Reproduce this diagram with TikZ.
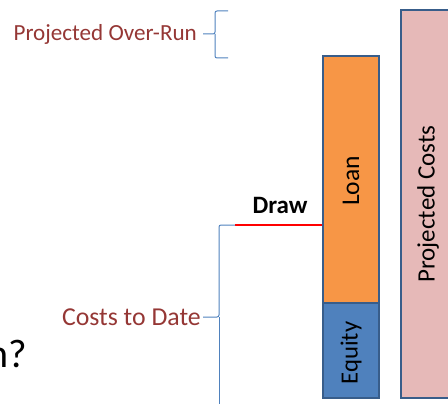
\documentclass[tikz,border=0pt]{standalone}
\usepackage{fontspec}
\setmainfont{Carlito}
\definecolor{loanc}{HTML}{F79646}
\definecolor{eqc}{HTML}{4F81BD}
\definecolor{projc}{HTML}{E6B9B8}
\definecolor{edgec}{HTML}{385D8A}
\definecolor{labc}{HTML}{953735}
\definecolor{bracec}{HTML}{4F81BD}
\begin{document}
\begin{tikzpicture}[x=1pt,y=-1pt,
  bar/.style={draw=edgec,line width=2.5pt},
  lab/.style={text=labc,inner sep=0pt},
  inbar/.style={rotate=90,inner sep=0pt},
  brc/.style={draw=bracec,line width=1pt,rounded corners=2pt}]
\useasboundingbox (0,0) rectangle (448,404);
\clip (0,0) rectangle (448,404);
% bars
\path[bar,fill=projc] (401,10) rectangle (460,398);
\node[inbar,font=\fontsize{25}{27}\selectfont] (pc) at (428,204) {Projected Costs};
\path[bar,fill=loanc] (323,56) rectangle (379,303);
\node[inbar,font=\fontsize{25.5}{27}\selectfont] (loan) at (351,181) {Loan};
\path[bar,fill=eqc] (323,303) rectangle (379,398);
\node[inbar,font=\fontsize{24.7}{26}\selectfont] (eq) at (351,353) {Equity};
% draw line
\coordinate (dl) at (235,225);
\coordinate (dr) at (322,225);
\draw[red,line width=2.8pt] (dl) -- (dr);
\node[font=\bfseries\fontsize{25}{27}\selectfont,inner sep=0pt] (draw) at (280,205) {Draw};
% over-run brace
\coordinate (ot) at (228,11);
\coordinate (ob) at (228,58);
\coordinate (otip) at (203,34);
\draw[brc] (ot) -- (215,11) -- (215,34) -- (otip);
\draw[brc] (ob) -- (215,58) -- (215,34);
\node[lab,anchor=east,font=\fontsize{23.1}{25}\selectfont] (over) at (197,34) {Projected Over-Run};
% costs brace
\coordinate (ctip) at (203,317);
\coordinate (cb) at (219,410);
\draw[brc] (dl) -- (219,225) -- (219,317) -- (ctip);
\draw[brc] (cb) -- (219,317);
\node[lab,anchor=east,font=\fontsize{25.8}{28}\selectfont] (costs) at (201,317) {Costs to Date};
% clipped question text
\node[font=\fontsize{40}{44}\selectfont,anchor=base east,inner sep=0pt] (q) at (27,367) {n?};
\end{tikzpicture}
\end{document}
